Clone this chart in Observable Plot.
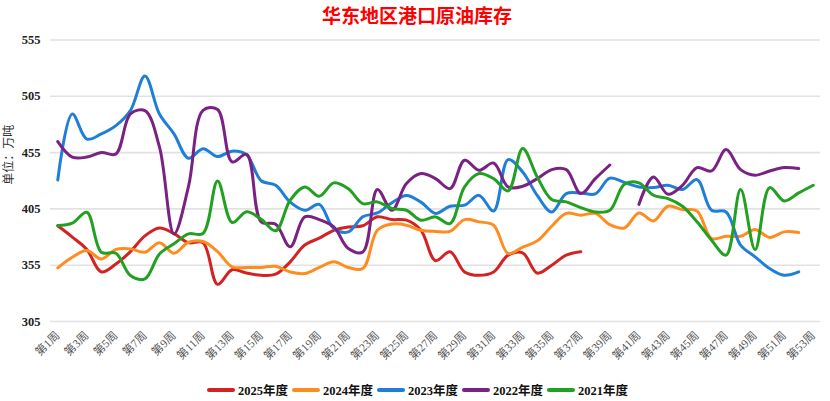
<!DOCTYPE html>
<html>
<head>
<meta charset="utf-8">
<script src="https://cdn.jsdelivr.net/npm/d3@7"></script>
<script src="https://cdn.jsdelivr.net/npm/@observablehq/plot@0.6"></script>
<style>
  html, body { margin: 0; padding: 0; background: #fff; }
  body { width: 830px; height: 401px; overflow: hidden; position: relative; }
  #title { height: 30px; line-height: 30px; text-align: center; padding-left: 4px;
    font-family: "Noto Sans CJK SC", sans-serif; font-weight: bold; font-size: 19px; color: #ff0000; }
  #chart svg { display: block; }
  #legend { position: absolute; left: 207px; top: 380px; display: flex; align-items: center; gap: 4px;
    font-family: "Liberation Serif", "Noto Sans CJK SC", serif; font-weight: bold; font-size: 12.5px; color: #111; }
  .item { display: flex; align-items: center; gap: 3px; }
  .sw { width: 28px; height: 4px; border-radius: 2px; }
</style>
</head>
<body>
<div id="title">华东地区港口原油库存</div>
<div id="chart"></div>
<div id="legend"></div>
<script>
const weeks = [1,2,3,4,5,6,7,8,9,10,11,12,13,14,15,16,17,18,19,20,21,22,23,24,25,26,27,28,29,30,31,32,33,34,35,36,37,38,39,40,41,42,43,44,45,46,47,48,49,50,51,52,53];
const xTickWeeks = [1,3,5,7,9,11,13,15,17,19,21,23,25,27,29,31,33,35,37,39,41,43,45,47,49,51,53];
const yTicks = [305,355,405,455,505,555];
const seriesNames = ["2025年度","2024年度","2023年度","2022年度","2021年度"];
const seriesColors = ["#d42222","#ff8c1f","#1f7fd8","#7a2283","#22a022"];

const y2025 = [390,380,369,349,356,367,381,388,383,375,375,338,351,348,346,347,358,373,379,386,389,390,398,395.5,395,386,359,367,349,346,349,364,366,348,355,364,367];
const y2024 = [352.6,362,368,360.6,369,369.5,366.5,375,365.6,375.4,376,367,353.5,353,353,354,349,347.6,353,358,353,352,386,391.5,390.5,386,385,385,395.5,393.5,390.5,365.4,371,376.6,389.6,401,399.4,401,391,388,401.4,394.3,407.4,404.4,403.2,378.7,380.7,380.7,386.7,379.6,384.6,384];
const y2023 = [430.7,489.3,467,471.6,479,492.3,523,489.3,471.6,450,458.5,451.5,456.3,453,430,426,411,403.8,409,387.5,384.6,398,401.4,410.5,417,411,401,407.4,408.3,417,403.2,448.8,437.8,417,402.3,418.6,419.2,418.3,432.3,428.5,424.5,423.9,426,422.2,431,403.8,402.3,372.8,362.4,352,346.1,349.1];
const y2022 = [464.8,451,451,455,453.8,489.3,492.3,460,382.8,425,492.6,493.2,446.7,453.5,393.5,391.4,371.3,397.9,395.5,389,369.8,366.8,422.2,403.8,427.5,436.4,431.9,423,448.2,439.3,445.8,424.5,425.1,431.9,439.9,439.9,418.6,431.9,444,null,409,433.4,418,426,441.7,438.7,457.7,439.9,434.9,438.7,441.7,440.8];
const y2021 = [390.2,392.3,402,366.5,365.6,345.8,342.9,365,374,382.8,383.2,429.8,392.9,402.4,395.8,385.6,412.7,424.5,416.3,428.1,423,409.7,411.2,405.3,403.8,394.9,397.9,392,424.5,436.4,431.9,421,458.6,433.4,413.3,411.2,406.2,402.3,403.8,426.9,428.1,417.1,414.2,407.4,393.5,377.2,363.9,422.2,368.9,423.9,412.1,419.2,426];

const seriesValues = [y2025, y2024, y2023, y2022, y2021];
const data = [];
seriesValues.forEach((vals, i) => {
  vals.forEach((v, j) => data.push({week: weeks[j], value: v == null ? NaN : v, series: seriesNames[i]}));
});

const chart = Plot.plot({
  width: 830,
  height: 345,
  marginLeft: 50,
  marginRight: 10,
  marginTop: 9.5,
  marginBottom: 54,
  x: {type: "linear", domain: [0.5, 53.5]},
  y: {domain: [305, 555]},
  color: {domain: seriesNames, range: seriesColors},
  style: {fontFamily: "'Liberation Serif', 'Noto Sans CJK SC', serif", background: "white", overflow: "visible"},
  marks: [
    Plot.gridY(yTicks, {stroke: "#e2e2e2", strokeOpacity: 1, strokeWidth: 1.6}),
    Plot.axisY(yTicks, {tickSize: 0, tickPadding: 10, fontSize: 12.5, fontWeight: "bold", fill: "#222", label: null}),
    Plot.axisX(xTickWeeks, {tickSize: 0, tickRotate: -45, tickPadding: 12, tickFormat: d => `第${d}周`, fontSize: 11.5, fill: "#555", label: null}),
    Plot.line(data, {x: "week", y: "value", z: "series", stroke: "series", strokeWidth: 3, curve: "catmull-rom"}),
    Plot.text(["单位：万吨"], {text: d => d, frameAnchor: "left", dx: -41, dy: 4, rotate: -90, fontSize: 12, fill: "#333"})
  ]
});
document.getElementById("chart").appendChild(chart);

const legend = document.getElementById("legend");
seriesNames.forEach((name, i) => {
  const item = document.createElement("div");
  item.className = "item";
  const sw = document.createElement("span");
  sw.className = "sw";
  sw.style.background = seriesColors[i];
  const t = document.createElement("span");
  t.textContent = name;
  item.appendChild(sw);
  item.appendChild(t);
  legend.appendChild(item);
});
</script>
</body>
</html>
